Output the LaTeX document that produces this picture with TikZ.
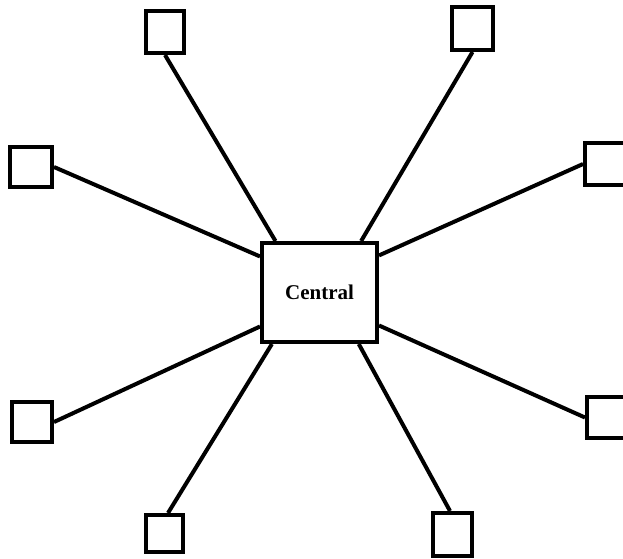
\documentclass[tikz,border=0pt]{standalone}
\usepackage{fontspec}
\setmainfont{Liberation Serif}
\usetikzlibrary{calc}
\begin{document}
\begin{tikzpicture}[x=1pt,y=-1pt,
  hub/.style={draw,line width=4pt,inner sep=0pt,minimum width=115pt,minimum height=99pt,
    font=\fontsize{21}{24}\selectfont\bfseries},
  leaf/.style={draw,line width=4pt,inner sep=0pt},
  link/.style={line width=4pt}]
\clip (0,0) rectangle (623,558);
\useasboundingbox (0,0) rectangle (623,558);
\node[hub] (c) at (319.5,292.5) {Central};
\node[leaf,minimum width=38pt,minimum height=42pt] (tl) at (165,32) {};
\node[leaf,minimum width=41pt,minimum height=43pt] (tr) at (472.5,28.5) {};
\node[leaf,minimum width=42pt,minimum height=40pt] (l) at (31,167) {};
\node[leaf,minimum width=40pt,minimum height=42pt] (r) at (605,164) {};
\node[leaf,minimum width=40pt,minimum height=40pt] (bl) at (32,422) {};
\node[leaf,minimum width=40pt,minimum height=41pt] (br) at (607,417.5) {};
\node[leaf,minimum width=37pt,minimum height=37pt] (b) at (164.5,533.5) {};
\node[leaf,minimum width=39pt,minimum height=43pt] (b2) at (452.5,534.5) {};
\draw[link] (tl.south) -- ($(c.north west)!0.13!(c.north east)$);
\draw[link] (tr.south) -- ($(c.north west)!0.85!(c.north east)$);
\draw[link] (l.east) -- ($(c.north west)!0.15!(c.south west)$);
\draw[link] (r.west) -- ($(c.north east)!0.14!(c.south east)$);
\draw[link] (bl.east) -- ($(c.north west)!0.83!(c.south west)$);
\draw[link] (br.west) -- ($(c.north east)!0.82!(c.south east)$);
\draw[link] ([xshift=3.5pt]b.north) -- ($(c.south west)!0.1!(c.south east)$);
\draw[link] ([xshift=-2.5pt]b2.north) -- ($(c.south west)!0.83!(c.south east)$);
\end{tikzpicture}
\end{document}
